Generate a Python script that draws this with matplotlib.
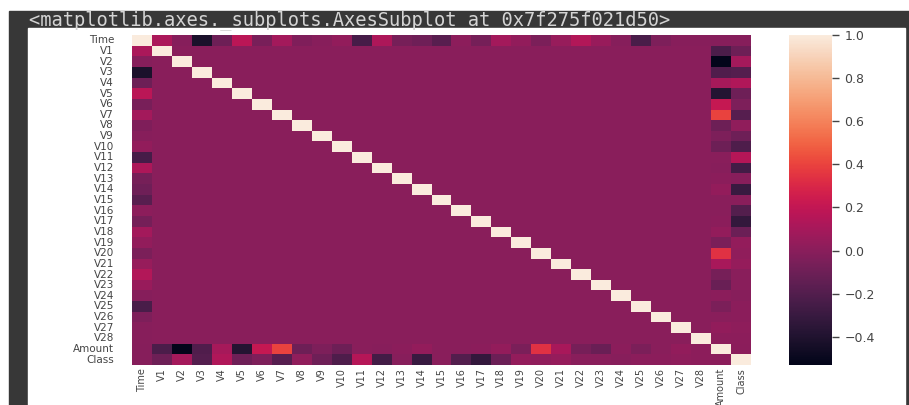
import matplotlib
matplotlib.use('Agg')
import matplotlib.pyplot as plt
import numpy as np
import seaborn as sns

# 特徴量名 (Time, V1..V28, Amount, Class)
labels = ['Time'] + [f'V{i}' for i in range(1, 29)] + ['Amount', 'Class']

# Time と V1..V28, Amount, Class の相関
time_corr = [0.117, -0.011, -0.420, -0.105, 0.173, -0.063, 0.085, -0.037, -0.009, 0.031,
             -0.248, 0.124, -0.066, -0.099, -0.183, 0.012, -0.073, 0.090, 0.029, -0.051,
             0.045, 0.144, 0.051, -0.016, -0.233, -0.041, -0.005, -0.009,
             -0.011, -0.012]
# Amount と V1..V28, Class の相関
amount_corr = [-0.228, -0.531, -0.211, 0.099, -0.386, 0.216, 0.397, -0.103, -0.044, -0.102,
               0.000, -0.010, 0.005, 0.034, -0.003, -0.004, 0.007, 0.036, -0.056, 0.339,
               0.106, -0.065, -0.113, 0.005, -0.048, -0.003, 0.029, 0.010,
               0.006]
# Class と V1..V28 の相関
class_corr = [-0.101, 0.091, -0.193, 0.133, -0.095, -0.044, -0.187, 0.020, -0.098, -0.217,
              0.155, -0.261, -0.005, -0.303, -0.004, -0.197, -0.327, -0.111, 0.035, 0.020,
              0.040, 0.001, -0.003, -0.007, 0.003, 0.004, 0.018, 0.010]

# 相関行列を組み立てる (V同士はPCA成分なのでほぼ0)
n = len(labels)
i_amt, i_cls = labels.index('Amount'), labels.index('Class')
corr = np.eye(n)
corr[0, 1:] = time_corr
corr[1:, 0] = time_corr
corr[i_amt, 1:29] = amount_corr[:28]
corr[1:29, i_amt] = amount_corr[:28]
corr[i_amt, i_cls] = corr[i_cls, i_amt] = amount_corr[28]
corr[i_cls, 1:29] = class_corr
corr[1:29, i_cls] = class_corr

W, H = 909, 405
fig = plt.figure(figsize=(W / 100, H / 100), dpi=100)
fig.patch.set_facecolor('white')

# 出力セルの枠 (軸より下に描く)
fig.patches.append(plt.Rectangle((9 / W, 0), (W - 9) / W, (H - 11) / H,
                                 transform=fig.transFigure, color='#373737', zorder=-2))
fig.patches.append(plt.Rectangle((28 / W, 0), (905 - 28) / W, (H - 28) / H,
                                 transform=fig.transFigure, color='white', zorder=-1))
fig.text(29 / W, 1 - 20 / H, '<matplotlib.axes._subplots.AxesSubplot at 0x7f275f021d50>',
         family='DejaVu Sans Mono', fontsize=13.5, color='#d4d4d4', va='center', ha='left')

ax = fig.add_axes([132 / W, 1 - 365 / H, 619 / W, 330 / H])
cax = fig.add_axes([789 / W, 1 - 365 / H, 43 / W, 330 / H])

sns.heatmap(corr, ax=ax, cbar_ax=cax, cmap='rocket',
            xticklabels=labels, yticklabels=labels)

ax.tick_params(axis='y', length=0, pad=13, labelsize=7.5, labelcolor='#444444', rotation=0)
ax.tick_params(axis='x', length=0, pad=2, labelsize=7, labelcolor='#444444', rotation=90)

cax.set_yticks([-0.4, -0.2, 0.0, 0.2, 0.4, 0.6, 0.8, 1.0])
cax.tick_params(length=5, width=1, color='#444444', labelsize=9, labelcolor='#444444', pad=4)

fig.savefig('out.png', dpi=100, facecolor=fig.get_facecolor())
